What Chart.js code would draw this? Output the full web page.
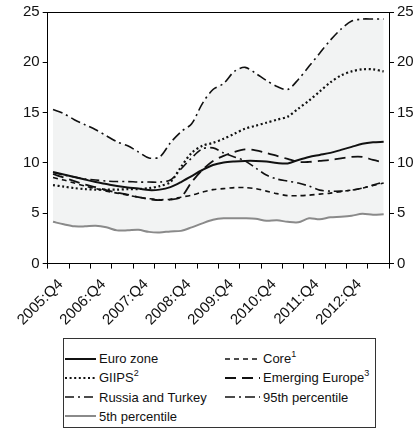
<!DOCTYPE html>
<html>
<head>
<meta charset="utf-8">
<script src="https://cdn.jsdelivr.net/npm/chart.js@4.4.1/dist/chart.umd.min.js"></script>
<style>
    body { margin: 0; background: #fff; font-family: "Liberation Sans", Arial, sans-serif; }
    #wrap { position: relative; width: 420px; height: 431px; }
    #chart-box { position: absolute; left: 0; top: 0; width: 420px; height: 336px; }
    #legend { position: absolute; left: 63px; top: 338px; width: 313px; height: 90px; border: 1px solid #333; box-sizing: border-box; background: #fff; }
    .item { position: absolute; font-size: 13px; color: #111; line-height: 15px; white-space: nowrap; }
    .item canvas { vertical-align: middle; margin-right: 3px; position: relative; top: -1px; }
    sup { font-size: 9px; line-height: 0; position: relative; top: -1px; }
</style>
</head>
<body>
<div id="wrap">
    <div id="chart-box"><canvas id="chart"></canvas></div>
    <div id="legend"></div>
</div>
<script>
// quarterly observations, 2006:Q1 - 2013:Q4
const quarters = ["2006:Q1","2006:Q2","2006:Q3","2006:Q4","2007:Q1","2007:Q2","2007:Q3","2007:Q4",
    "2008:Q1","2008:Q2","2008:Q3","2008:Q4","2009:Q1","2009:Q2","2009:Q3","2009:Q4",
    "2010:Q1","2010:Q2","2010:Q3","2010:Q4","2011:Q1","2011:Q2","2011:Q3","2011:Q4",
    "2012:Q1","2012:Q2","2012:Q3","2012:Q4","2013:Q1","2013:Q2","2013:Q3","2013:Q4"];
const tickLabels = ["2005:Q4","2006:Q4","2007:Q4","2008:Q4","2009:Q4","2010:Q4","2011:Q4","2012:Q4"];

const euroZone = [9.1, 8.85, 8.6, 8.35, 8.1, 7.9, 7.7, 7.55, 7.45, 7.3, 7.35, 7.6, 8.1, 8.7, 9.3, 9.8,
    10.05, 10.15, 10.2, 10.2, 10.15, 10.0, 9.95, 10.3, 10.6, 10.8, 11.0, 11.3, 11.6, 11.9, 12.05, 12.1];
const core = [8.55, 8.3, 8.0, 7.7, 7.45, 7.2, 7.0, 6.8, 6.6, 6.45, 6.35, 6.4, 6.6, 6.8, 7.1, 7.35,
    7.45, 7.55, 7.55, 7.45, 7.2, 6.95, 6.75, 6.75, 6.8, 6.9, 7.0, 7.15, 7.3, 7.5, 7.75, 8.0];
const giips = [7.8, 7.65, 7.5, 7.4, 7.35, 7.35, 7.35, 7.4, 7.4, 7.5, 7.7, 8.1, 9.6, 11.0, 11.7, 12.0,
    12.4, 12.9, 13.4, 13.7, 14.0, 14.3, 14.6, 15.4, 16.2, 17.1, 18.0, 18.7, 19.1, 19.3, 19.3, 19.1];
const emergingEurope = [8.9, 8.55, 8.2, 7.85, 7.6, 7.3, 7.05, 6.85, 6.6, 6.4, 6.3, 6.35, 6.6, 8.1, 9.3, 10.2,
    10.7, 11.1, 11.35, 11.25, 11.0, 10.7, 10.4, 10.1, 10.1, 10.2, 10.3, 10.45, 10.6, 10.6, 10.3, 10.05];
const russiaTurkey = [9.05, 8.8, 8.6, 8.4, 8.3, 8.2, 8.15, 8.15, 8.1, 8.1, 8.1, 8.3, 9.4, 10.5, 11.4, 11.5,
    11.0, 10.6, 10.2, 9.5, 8.8, 8.4, 8.2, 8.0, 7.7, 7.3, 7.2, 7.2, 7.3, 7.5, 7.8, 8.1];
const pct95 = [15.3, 14.9, 14.3, 13.8, 13.3, 12.7, 12.1, 11.7, 11.1, 10.5, 10.6, 12.0, 13.1, 13.9, 15.9, 17.3,
    17.9, 19.1, 19.5, 18.9, 18.2, 17.6, 17.3, 18.3, 19.6, 20.9, 22.2, 23.3, 24.1, 24.3, 24.3, 24.3];
const pct5 = [4.15, 3.9, 3.7, 3.7, 3.75, 3.6, 3.3, 3.3, 3.35, 3.15, 3.1, 3.2, 3.25, 3.6, 4.0, 4.35,
    4.5, 4.5, 4.5, 4.45, 4.25, 4.3, 4.15, 4.1, 4.5, 4.4, 4.6, 4.65, 4.75, 4.95, 4.85, 4.9];

const series = [
    { label: "Euro zone", sup: "", data: euroZone, color: "#111", width: 2, dash: [] },
    { label: "Core", sup: "1", data: core, color: "#111", width: 1.6, dash: [5, 4] },
    { label: "GIIPS", sup: "2", data: giips, color: "#111", width: 2.2, dash: [2, 2.6] },
    { label: "Emerging Europe", sup: "3", data: emergingEurope, color: "#111", width: 1.8, dash: [11, 6] },
    { label: "Russia and Turkey", sup: "", data: russiaTurkey, color: "#111", width: 1.6, dash: [9, 4, 2, 4] },
    { label: "95th percentile", sup: "", data: pct95, color: "#111", width: 1.6, dash: [10, 4, 2, 4] },
    { label: "5th percentile", sup: "", data: pct5, color: "#8a8a8a", width: 2, dash: [] }
];

// x position = middle of each quarter on a 0..32 axis
const toPoints = arr => arr.map((v, i) => ({ x: i + 0.5, y: v }));

const datasets = series.map((s, i) => ({
    label: s.label,
    data: toPoints(s.data),
    borderColor: s.color,
    borderWidth: s.width,
    borderDash: s.dash,
    pointRadius: 0,
    tension: 0.3,
    fill: false,
    order: i
}));
// shaded band between 95th and 5th percentile
datasets[5].fill = { target: 6 };
datasets[5].backgroundColor = "#f2f3f3";

const topBorder = {
    id: "topBorder",
    afterDraw(chart) {
        const { ctx, chartArea: a } = chart;
        ctx.save();
        ctx.strokeStyle = "#000";
        ctx.lineWidth = 1;
        ctx.beginPath();
        ctx.moveTo(a.left, Math.round(a.top) + 0.5);
        ctx.lineTo(a.right, Math.round(a.top) + 0.5);
        ctx.stroke();
        ctx.restore();
    }
};

const tickFont = { family: '"Liberation Sans", Arial, sans-serif', size: 15 };
const yAxis = (pos, w) => ({
    type: "linear",
    position: pos,
    display: true,
    min: 0,
    max: 25,
    ticks: { stepSize: 5, color: "#111", font: tickFont, padding: 3 },
    grid: { drawOnChartArea: false, tickLength: 5, color: "#000" },
    border: { color: "#000", width: 1 },
    afterFit(scale) { scale.width = w; }
});

new Chart(document.getElementById("chart"), {
    type: "line",
    data: { datasets },
    options: {
        responsive: true,
        maintainAspectRatio: false,
        animation: false,
        layout: { padding: { top: 4, left: 0, right: 0, bottom: 0 } },
        plugins: {
            legend: { display: false },
            tooltip: { enabled: false },
            filler: { drawTime: "beforeDatasetsDraw" }
        },
        scales: {
            x: {
                type: "linear",
                min: 0,
                max: 32,
                ticks: {
                    stepSize: 2,
                    autoSkip: false,
                    minRotation: 45,
                    maxRotation: 45,
                    color: "#111",
                    font: tickFont,
                    padding: 7,
                    labelOffset: 13,
                    callback: v => (v % 4 === 0 && tickLabels[v / 4]) ? tickLabels[v / 4] : ""
                },
                grid: { drawOnChartArea: false, tickLength: 5, color: "#000" },
                border: { color: "#000", width: 1 }
            },
            y: yAxis("left", 42),
            y2: yAxis("right", 31)
        }
    },
    plugins: [topBorder]
});

// legend, two columns
const legendEl = document.getElementById("legend");
const slots = [
    [0, 0], [1, 0], [0, 1], [1, 1], [0, 2], [1, 2], [0, 3]
];
series.forEach((s, k) => {
    const [col, row] = slots[k];
    const item = document.createElement("div");
    item.className = "item";
    item.style.left = (col === 0 ? 1 : 161) + "px";
    item.style.top = (12 + row * 19.3) + "px";
    const c = document.createElement("canvas");
    const w = col === 0 ? 31 : 35;
    c.width = w; c.height = 6;
    const g = c.getContext("2d");
    g.strokeStyle = s.color;
    g.lineWidth = s.width;
    g.setLineDash(s.dash);
    g.beginPath();
    g.moveTo(0, 3);
    g.lineTo(w, 3);
    g.stroke();
    item.appendChild(c);
    const t = document.createElement("span");
    t.innerHTML = s.label + (s.sup ? "<sup>" + s.sup + "</sup>" : "");
    item.appendChild(t);
    legendEl.appendChild(item);
});
</script>
</body>
</html>
